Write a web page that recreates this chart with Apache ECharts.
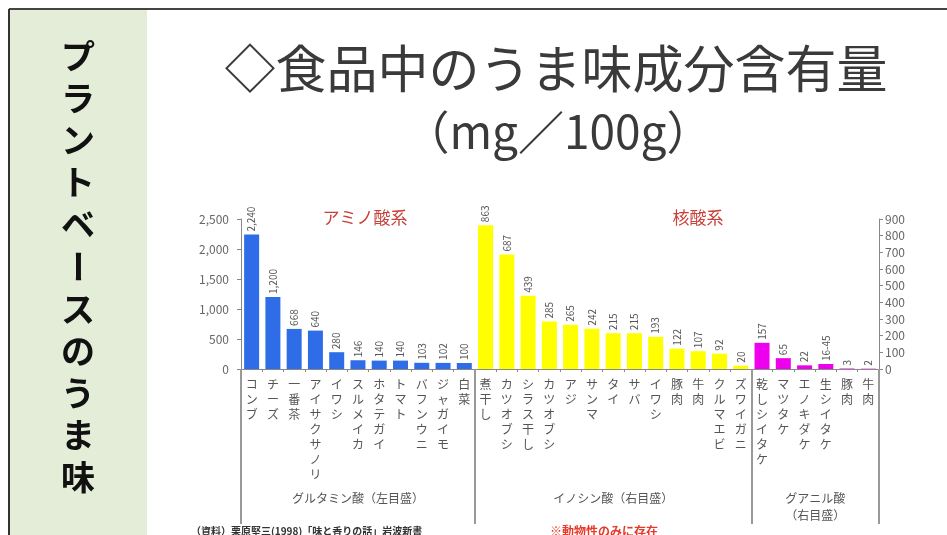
<!DOCTYPE html>
<html>
<head>
<meta charset="utf-8">
<script src="https://cdn.jsdelivr.net/npm/echarts@6/dist/echarts.min.js"></script>
<style>
  html, body { margin: 0; padding: 0; background: #fff; }
  #chart { width: 947px; height: 535px; }
</style>
</head>
<body>
<div id="chart"></div>
<script>
// 食品名（横軸）
var aminoFoods = ['コンブ', 'チーズ', '一番茶', 'アイサクサノリ', 'イワシ', 'スルメイカ', 'ホタテガイ', 'トマト', 'バフンウニ', 'ジャガイモ', '白菜'];
var inosineFoods = ['煮干し', 'カツオブシ', 'シラス干し', 'カツオブシ', 'アジ', 'サンマ', 'タイ', 'サバ', 'イワシ', '豚肉', '牛肉', 'クルマエビ', 'ズワイガニ'];
var guanylFoods = ['乾しシイタケ', 'マツタケ', 'エノキダケ', '生シイタケ', '豚肉', '牛肉'];

// 含有量 mg/100g
var glutamate = [2240, 1200, 668, 640, 280, 146, 140, 140, 103, 102, 100];
var inosinate = [863, 687, 439, 285, 265, 242, 215, 215, 193, 122, 107, 92, 20];
var guanylate = [157, 65, 22, 30, 3, 2];
var guanylLabels = ['157', '65', '22', '16-45', '3', '2'];

// グループ名と区切り（カテゴリ番号）
var groupNames = ['グルタミン酸（左目盛）', 'イノシン酸（右目盛）', 'グアニル酸\n（右目盛）'];
var groupCenters = [5.5, 17.5, 27];
var groupBounds = [0, 11, 24, 30];

var sideTitle = 'プラントベースのうま味';

var categories = aminoFoods.concat(inosineFoods, guanylFoods);
var nA = aminoFoods.length, nI = inosineFoods.length, nG = guanylFoods.length;

function pad(n) { var a = []; for (var i = 0; i < n; i++) a.push('-'); return a; }

var blueData = glutamate.concat(pad(nI + nG));
var yellowData = pad(nA).concat(inosinate, pad(nG));
var magentaData = pad(nA + nI).concat(guanylate);

// 左の緑パネルと縦書きタイトル（1文字ずつ、長音符は90度回転）
var sideGraphics = [
    { type: 'rect', shape: { x: 10, y: 10, width: 137, height: 530 }, style: { fill: '#e3edd8' }, z: -1 },
    { type: 'line', shape: { x1: 9, y1: 9, x2: 947, y2: 9 }, style: { stroke: '#444', lineWidth: 2 } },
    { type: 'line', shape: { x1: 9, y1: 9, x2: 9, y2: 535 }, style: { stroke: '#333', lineWidth: 2 } }
];
sideTitle.split('').forEach(function (ch, i) {
    sideGraphics.push({
        type: 'text',
        x: 78,
        y: 56 + i * 42.1,
        rotation: ch === 'ー' ? -Math.PI / 2 : 0,
        style: {
            text: ch,
            fontSize: 34,
            fontWeight: 'bold',
            fontFamily: '"Noto Sans CJK JP", sans-serif',
            fill: '#111',
            align: 'center',
            verticalAlign: 'middle'
        }
    });
});

var myChart = echarts.init(document.getElementById('chart'));

var labelStyle = {
    show: true,
    position: 'top',
    rotate: 90,
    align: 'left',
    verticalAlign: 'middle',
    distance: 3,
    fontSize: 10,
    color: '#555',
    fontFamily: 'Noto Sans CJK JP'
};

var option = {
    animation: false,
    textStyle: { fontFamily: '"Noto Sans CJK JP", sans-serif' },
    graphic: sideGraphics,
    title: [
        {
            text: '◇食品中のうま味成分含有量',
            left: 551, top: 38, textAlign: 'center',
            textStyle: { fontSize: 51, fontWeight: 'normal', color: '#3a3a3a' }
        },
        {
            text: '（mg／100g）',
            left: 553, top: 104, textAlign: 'center',
            textStyle: { fontSize: 46, fontWeight: 'normal', color: '#3a3a3a' }
        },
        {
            text: 'アミノ酸系',
            left: 360, top: 204, textAlign: 'center',
            textStyle: { fontSize: 17, fontWeight: 'normal', color: '#c8413a' }
        },
        {
            text: '核酸系',
            left: 693, top: 204, textAlign: 'center',
            textStyle: { fontSize: 17, fontWeight: 'normal', color: '#c8413a' }
        },
        {
            text: '（資料）栗原堅三(1998)「味と香りの話」岩波新書',
            left: 186, top: 521,
            textStyle: { fontSize: 10, fontWeight: 'bold', color: '#333' }
        },
        {
            text: '※動物性のみに存在',
            left: 545, top: 520,
            textStyle: { fontSize: 12, fontWeight: 'bold', color: '#e53a2a' }
        }
    ],
    grid: { left: 241, right: 68, top: 219, height: 150 },
    xAxis: [
        {
            type: 'category',
            data: categories,
            axisLine: { lineStyle: { color: '#888' } },
            axisTick: { show: true, length: 3, lineStyle: { color: '#888' } },
            axisLabel: {
                interval: 0,
                margin: 8,
                fontSize: 12,
                lineHeight: 15,
                color: '#555',
                verticalAlign: 'top',
                formatter: function (v) { return v.split('').join('\n'); }
            }
        },
        {
            type: 'value',
            position: 'bottom',
            min: 0,
            max: 30,
            axisLine: { show: false },
            splitLine: { show: false },
            axisTick: {
                show: true,
                customValues: groupBounds,
                length: 155,
                lineStyle: { color: '#999', width: 2 }
            },
            axisLabel: {
                customValues: groupCenters,
                margin: 121,
                fontSize: 12,
                lineHeight: 17,
                color: '#555',
                verticalAlign: 'top',
                formatter: function (v) { return groupNames[groupCenters.indexOf(v)]; }
            }
        }
    ],
    yAxis: [
        {
            type: 'value',
            min: 0, max: 2500, interval: 500,
            axisLine: { show: true, lineStyle: { color: '#888' } },
            axisTick: { show: true, length: 4, lineStyle: { color: '#888' } },
            splitLine: { show: false },
            axisLabel: { fontSize: 12, color: '#666', margin: 12 }
        },
        {
            type: 'value',
            min: 0, max: 900, interval: 100,
            position: 'right',
            axisLine: { show: true, lineStyle: { color: '#888' } },
            axisTick: { show: true, length: 4, lineStyle: { color: '#888' } },
            splitLine: { show: false },
            axisLabel: { fontSize: 12, color: '#666', margin: 6 }
        }
    ],
    series: [
        {
            name: 'グルタミン酸',
            type: 'bar',
            yAxisIndex: 0,
            data: blueData,
            barWidth: 15,
            barGap: '-100%',
            itemStyle: { color: '#2f6de8' },
            label: Object.assign({}, labelStyle, {
                formatter: function (p) { return p.value.toLocaleString('en-US'); }
            })
        },
        {
            name: 'イノシン酸',
            type: 'bar',
            yAxisIndex: 1,
            data: yellowData,
            barWidth: 15,
            barGap: '-100%',
            itemStyle: { color: '#ffff00' },
            label: labelStyle
        },
        {
            name: 'グアニル酸',
            type: 'bar',
            yAxisIndex: 1,
            data: magentaData,
            barWidth: 15,
            barGap: '-100%',
            itemStyle: { color: '#ee00ee' },
            label: Object.assign({}, labelStyle, {
                formatter: function (p) { return guanylLabels[p.dataIndex - nA - nI]; }
            })
        }
    ]
};

myChart.setOption(option);
</script>
</body>
</html>
